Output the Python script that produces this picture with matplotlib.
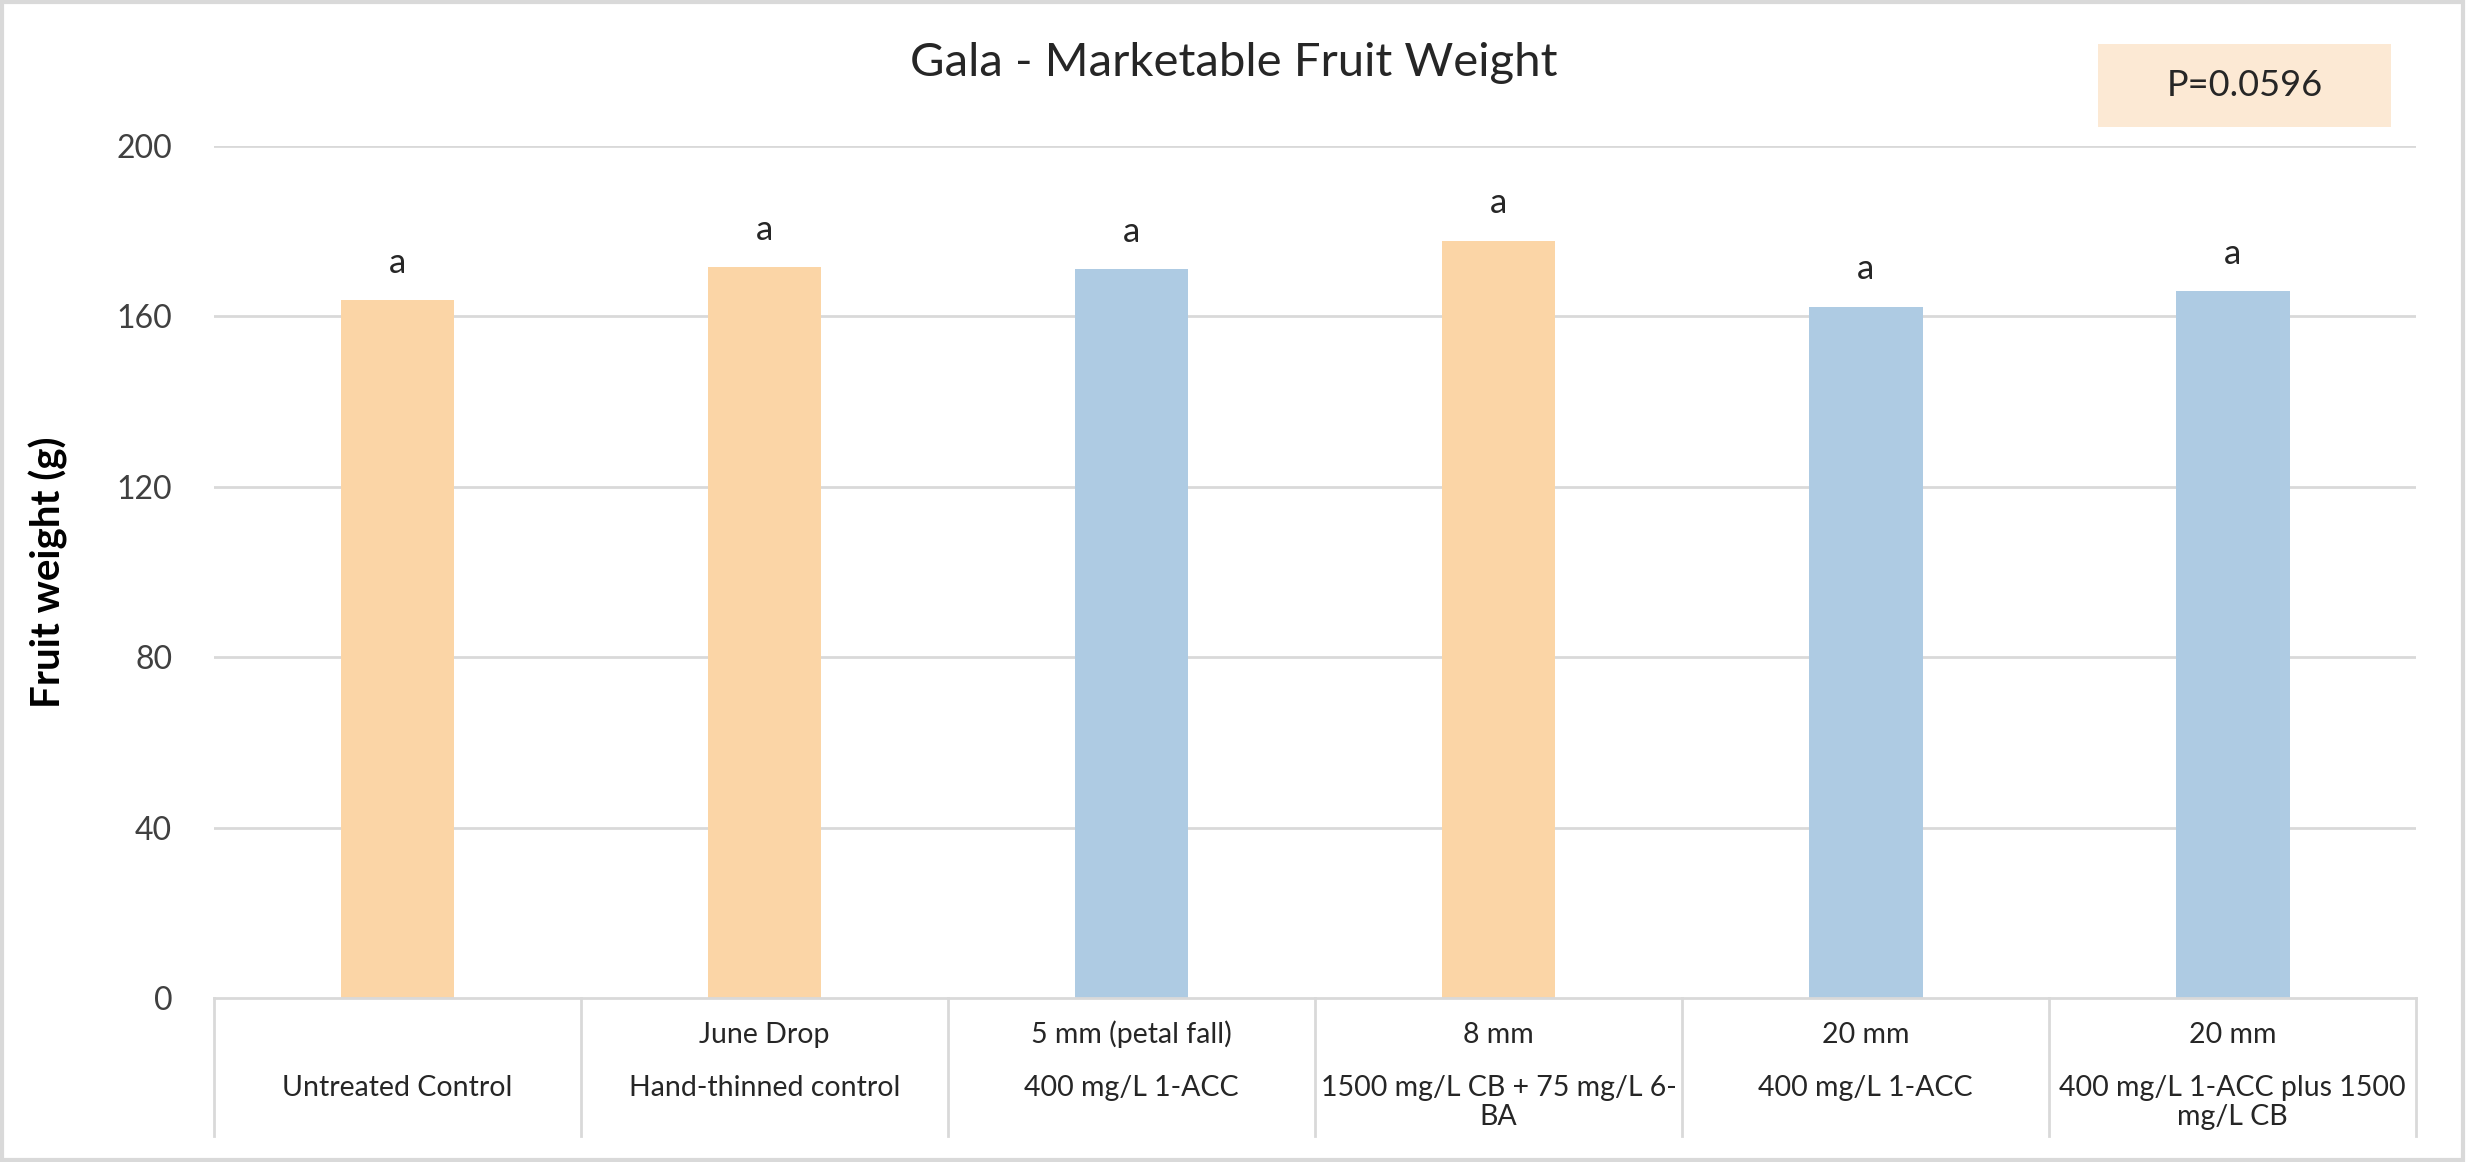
import matplotlib
matplotlib.use('Agg')
import matplotlib.pyplot as plt
import matplotlib.transforms as mtransforms
from matplotlib.patches import Rectangle

# data
timing = ['', 'June Drop', '5 mm (petal fall)', '8 mm', '20 mm', '20 mm']
treatment = ['Untreated Control', 'Hand-thinned control', '400 mg/L 1-ACC',
             '1500 mg/L CB + 75 mg/L 6-\nBA', '400 mg/L 1-ACC',
             '400 mg/L 1-ACC plus 1500\nmg/L CB']
weight = [163.8, 171.5, 171.1, 177.8, 162.3, 166.0]
letters = ['a', 'a', 'a', 'a', 'a', 'a']
kind = ['control', 'control', 'acc', 'control', 'acc', 'acc']
yticks = [0, 40, 80, 120, 160, 200]

colors = {'control': '#FBD5A6', 'acc': '#AECBE3'}
grid_c = '#D9D9D9'
plt.rcParams['font.family'] = ['Lato', 'DejaVu Sans']

fig = plt.figure(figsize=(24.68, 11.62), dpi=100)
ax = fig.add_axes([0.0867, 0.1411, 0.8923, 0.7333])

x = list(range(len(weight)))
ax.bar(x, weight, width=0.31, color=[colors[k] for k in kind], zorder=2)
for xi, w, l in zip(x, weight, letters):
    ax.text(xi, w + 5, l, ha='center', va='bottom', fontsize=25, color='#262626')

ax.set_xlim(-0.5, len(weight) - 0.5)
ax.set_ylim(0, 200)
ax.set_yticks(yticks)
ax.set_yticklabels([str(t) for t in yticks], fontsize=23, color='#404040')
ax.tick_params(axis='y', length=0, pad=30)
ax.set_xticks([])
for yt in yticks[1:]:
    ax.axhline(yt, color=grid_c, lw=2, zorder=1)
for s in ['top', 'right', 'left']:
    ax.spines[s].set_visible(False)
ax.spines['bottom'].set_color(grid_c)
ax.spines['bottom'].set_linewidth(2)

ax.set_ylabel('Fruit weight (g)', fontsize=29, fontweight='bold', labelpad=35)

# category table under the axis
trans = mtransforms.blended_transform_factory(ax.transData, ax.transAxes)
for b in range(len(weight) + 1):
    ax.plot([b - 0.5, b - 0.5], [0, -0.162], transform=trans, color=grid_c,
            lw=2, clip_on=False)
for xi in x:
    ax.text(xi, -0.043, timing[xi], transform=trans, ha='center', va='center',
            fontsize=20.5, color='#262626')
    ax.text(xi, -0.090, treatment[xi], transform=trans, ha='center', va='top',
            fontsize=20.5, color='#262626', linespacing=1.15)

fig.text(0.5, 0.946, 'Gala - Marketable Fruit Weight', ha='center', va='center',
         fontsize=34, color='#262626')

# p-value box
fig.patches.append(Rectangle((0.850, 0.891), 0.119, 0.071, transform=fig.transFigure,
                             facecolor='#FCE9D4', edgecolor='none'))
fig.text(0.9095, 0.9265, 'P=0.0596', ha='center', va='center', fontsize=26, color='#262626')

# outer frame
fig.patches.append(Rectangle((0.001, 0.002), 0.997, 0.996, transform=fig.transFigure,
                             facecolor='none', edgecolor=grid_c, lw=3))

fig.savefig('out.png', dpi=100)
